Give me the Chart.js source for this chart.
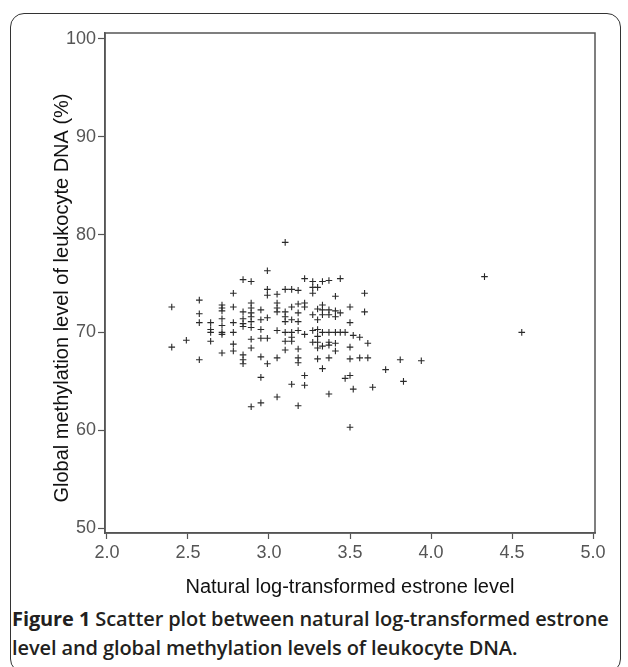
<!DOCTYPE html>
<html>
<head>
<meta charset="utf-8">
<script src="https://cdn.jsdelivr.net/npm/chart.js@4"></script>
<style>
  html, body { margin: 0; padding: 0; background: #fff; }
  body { width: 628px; height: 667px; position: relative; overflow: hidden; }
  #panel {
    position: absolute; left: 10px; top: 13px; width: 611px; height: 660px;
    border: 1.5px solid #333; border-radius: 14px; box-sizing: border-box;
  }
  #wrap { position: absolute; left: 0; top: 0; width: 628px; height: 600px; }
  #caption {
    position: absolute; left: 12px; top: 604px; width: 612px;
    font-family: "Open Sans", sans-serif; font-size: 20px; line-height: 29px;
    color: #231f20; font-weight: 600; white-space: nowrap; letter-spacing: -0.1px;
  }
  #caption b { font-weight: 700; }
</style>
</head>
<body>
<div id="panel"></div>
<div id="wrap"><canvas id="scatter"></canvas></div>
<div id="caption"><b>Figure 1</b> Scatter plot between natural log-transformed estrone<br>level and global methylation levels of leukocyte DNA.</div>
<script>
/* Scatter: natural log-transformed estrone vs global methylation of leukocyte DNA */

// x values (ln estrone), paired with methylation below
const estrone = [
  2.40, 2.40,
  2.49,
  2.57, 2.57, 2.57, 2.57,
  2.64, 2.64, 2.64, 2.64,
  2.71, 2.71, 2.71, 2.71, 2.71, 2.71, 2.71, 2.71,
  2.78, 2.78, 2.78, 2.78, 2.78, 2.78,
  2.84, 2.84, 2.84, 2.84, 2.84, 2.84, 2.84, 2.84,
  2.89, 2.89, 2.89, 2.89, 2.89, 2.89, 2.89, 2.89, 2.89, 2.89,
  2.95, 2.95, 2.95, 2.95, 2.95, 2.95, 2.95,
  2.99, 2.99, 2.99, 2.99, 2.99, 2.99,
  3.05, 3.05, 3.05, 3.05, 3.05, 3.05, 3.05,
  3.10, 3.10, 3.10, 3.10, 3.10, 3.10, 3.10, 3.10,
  3.14, 3.14, 3.14, 3.14, 3.14, 3.14, 3.14,
  3.18, 3.18, 3.18, 3.18, 3.18, 3.18, 3.18, 3.18, 3.18,
  3.22, 3.22, 3.22, 3.22, 3.22, 3.22,
  3.27, 3.27, 3.27, 3.27, 3.27, 3.27,
  3.30, 3.30, 3.30, 3.30, 3.30, 3.30, 3.30, 3.30,
  3.33, 3.33, 3.33, 3.33, 3.33, 3.33, 3.33,
  3.37, 3.37, 3.37, 3.37, 3.37, 3.37, 3.37, 3.37,
  3.41, 3.41, 3.41, 3.41, 3.41, 3.41,
  3.44, 3.44, 3.44,
  3.47, 3.47,
  3.50, 3.50, 3.50, 3.50, 3.50, 3.50,
  3.52, 3.52,
  3.56, 3.56,
  3.59, 3.59,
  3.61, 3.61,
  3.64, 3.72, 3.81, 3.83, 3.94, 4.33, 4.56
];

// y values (global methylation, %)
const methylation = [
  72.6, 68.5,
  69.2,
  73.3, 71.9, 71.0, 67.2,
  71.0, 70.3, 70.0, 69.1,
  72.8, 72.5, 72.2, 71.4, 70.7, 70.0, 69.8, 67.9,
  74.0, 72.6, 71.0, 70.0, 68.8, 68.1,
  75.4, 72.1, 71.4, 70.9, 70.6, 67.7, 67.2, 66.8,
  75.2, 73.0, 72.5, 72.0, 71.6, 71.1, 70.5, 69.3, 68.4, 62.4,
  72.3, 71.3, 70.3, 69.4, 67.5, 65.4, 62.8,
  76.3, 74.4, 73.8, 71.5, 69.4, 66.8,
  73.9, 73.0, 72.5, 72.1, 70.2, 67.4, 63.4,
  79.2, 74.4, 72.1, 71.6, 71.1, 70.0, 69.1, 68.2,
  74.4, 72.6, 71.3, 70.0, 69.5, 69.1, 64.7,
  74.3, 72.9, 72.0, 71.1, 70.2, 68.3, 67.4, 66.9, 62.5,
  75.5, 73.0, 72.6, 69.8, 65.6, 64.6,
  75.2, 74.6, 74.0, 71.8, 70.2, 69.0,
  74.6, 72.4, 71.3, 70.3, 69.6, 69.0, 68.4, 67.3,
  75.2, 72.8, 72.3, 71.8, 70.0, 68.6, 66.3,
  75.3, 72.3, 71.8, 70.0, 69.0, 68.7, 67.4, 63.7,
  73.7, 72.2, 71.6, 70.0, 68.9, 68.1,
  75.5, 72.0, 70.0,
  70.0, 65.3,
  72.6, 71.0, 68.5, 67.3, 65.6, 60.3,
  69.7, 64.2,
  69.5, 67.4,
  74.0, 72.1,
  68.9, 67.4,
  64.4, 66.2, 67.2, 65.0, 67.1, 75.7, 70.0
];

const xTicks = [2.0, 2.5, 3.0, 3.5, 4.0, 4.5, 5.0];
const yTicks = [50, 60, 70, 80, 90, 100];
const yTitle = 'Global methylation level of leukocyte DNA (%)';

const points = estrone.map((x, i) => ({ x: x, y: methylation[i] }));

const fontFamily = '"Liberation Sans", Arial, sans-serif';
const axisFont = { family: fontFamily, size: 18 };
const titleFont = { family: fontFamily, size: 20 };

new Chart(document.getElementById('scatter'), {
    type: 'scatter',
    data: {
        datasets: [{
            data: points,
            pointStyle: 'cross',
            pointRadius: 3.3,
            pointHoverRadius: 3.3,
            borderWidth: 1.1,
            borderColor: '#2a2a2a',
            backgroundColor: '#2a2a2a'
        }]
    },
    options: {
        responsive: true,
        maintainAspectRatio: false,
        animation: false,
        events: [],
        layout: { padding: { top: 33, right: 33, left: 0, bottom: 0 } },
        plugins: { legend: { display: false }, tooltip: { enabled: false } },
        scales: {
            x: {
                type: 'linear',
                min: 1.988,
                max: 5.012,
                afterFit: (s) => { s.height = 67; },
                afterBuildTicks: (s) => { s.ticks = xTicks.map(v => ({ value: v })); },
                grid: { drawOnChartArea: false, drawTicks: true, tickLength: 6, color: '#555', tickWidth: 1.2 },
                border: { color: '#555', width: 1.5 },
                ticks: {
                    color: '#555', font: axisFont, padding: 3,
                    callback: (v) => Number(v).toFixed(1)
                },
                title: {
                    display: true, text: 'Natural log-transformed estrone level',
                    color: '#111', font: titleFont, padding: { bottom: 1 }
                }
            },
            y: {
                type: 'linear',
                min: 49.5,
                max: 100.6,
                afterFit: (s) => { s.width = 105; },
                afterBuildTicks: (s) => { s.ticks = yTicks.map(v => ({ value: v })); },
                grid: { drawOnChartArea: false, drawTicks: true, tickLength: 7, color: '#555', tickWidth: 1.2 },
                border: { color: '#555', width: 1.5 },
                ticks: { color: '#555', font: axisFont, padding: 2 }
            }
        }
    },
    plugins: [{
        id: 'plotFrame',
        afterDraw(chart) {
            const { ctx, chartArea: a } = chart;
            ctx.save();
            ctx.strokeStyle = '#555';
            ctx.lineWidth = 1.5;
            ctx.strokeRect(a.left, a.top, a.right - a.left, a.bottom - a.top);

            // y title sits a bit below the plot centre in the original figure
            ctx.translate(62, (a.top + a.bottom) / 2 + 15);
            ctx.rotate(-Math.PI / 2);
            ctx.font = `${titleFont.size}px ${fontFamily}`;
            ctx.fillStyle = '#111';
            ctx.textAlign = 'center';
            ctx.textBaseline = 'middle';
            ctx.fillText(yTitle, 0, 0);
            ctx.restore();
        }
    }]
});
</script>
</body>
</html>
